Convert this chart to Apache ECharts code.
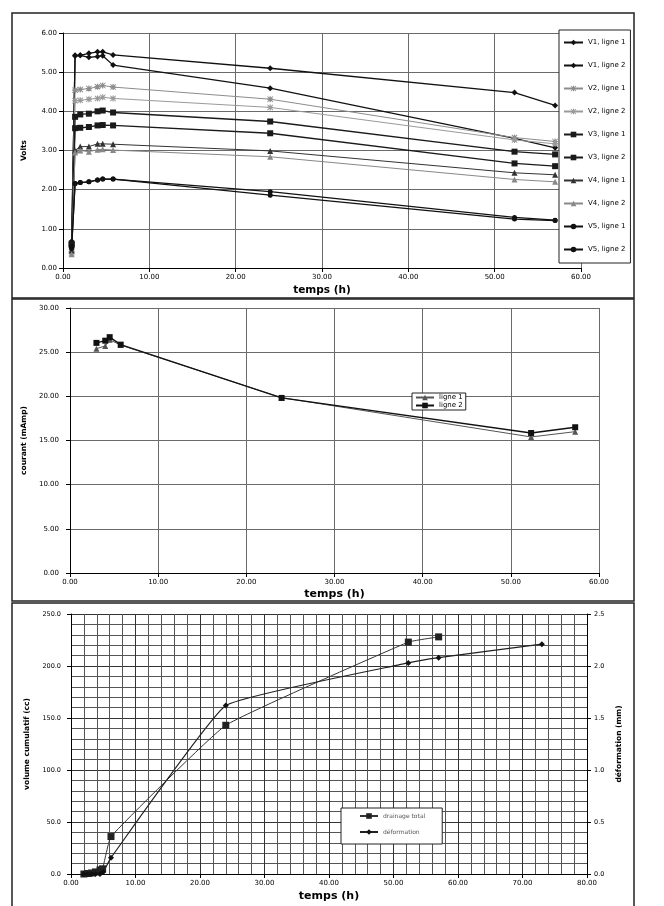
<!DOCTYPE html>
<html>
<head>
<meta charset="utf-8">
<script src="https://cdn.jsdelivr.net/npm/echarts@6.0.0/dist/echarts.min.js"></script>
<style>
  html, body { margin: 0; padding: 0; background: #fff; }
  #chart { width: 664px; height: 906px; }
</style>
</head>
<body>
<div id="chart"></div>
<script>
// panel 1 : tensions (Volts)
const tempsV = [1.0, 1.4, 2.0, 3.0, 4.0, 4.6, 5.8, 24, 52.3, 57]
const v1l1 = [0.68, 5.41, 5.43, 5.48, 5.52, 5.52, 5.44, 5.10, 4.48, 4.15]
const v1l2 = [0.65, 5.43, 5.43, 5.38, 5.40, 5.42, 5.18, 4.59, 3.31, 3.07]
const v2l1 = [0.42, 4.54, 4.56, 4.58, 4.63, 4.66, 4.62, 4.31, 3.33, 3.23]
const v2l2 = [0.38, 4.27, 4.28, 4.31, 4.33, 4.36, 4.33, 4.10, 3.27, 3.17]
const v3l1 = [0.62, 3.86, 3.92, 3.94, 4.00, 4.02, 3.97, 3.74, 2.97, 2.90]
const v3l2 = [0.58, 3.57, 3.58, 3.60, 3.64, 3.65, 3.64, 3.44, 2.67, 2.60]
const v4l1 = [0.45, 3.00, 3.10, 3.10, 3.17, 3.17, 3.16, 2.99, 2.43, 2.38]
const v4l2 = [0.35, 2.95, 3.00, 2.97, 3.02, 3.03, 3.01, 2.84, 2.26, 2.20]
const v5l1 = [0.55, 2.16, 2.18, 2.20, 2.25, 2.27, 2.27, 1.95, 1.29, 1.22]
const v5l2 = [0.50, 2.16, 2.18, 2.20, 2.25, 2.27, 2.27, 1.86, 1.25, 1.21]

// panel 2 : courant (mAmp)
const tempsI = [3.0, 4.0, 4.5, 5.75, 24, 52.3, 57.3]
const courantL1 = [25.4, 25.7, 26.4, 25.8, 19.85, 15.4, 16.0]
const courantL2 = [26.05, 26.3, 26.7, 25.85, 19.82, 15.85, 16.5]

// panel 3 : drainage et déformation
const tempsDrain = [2.0, 2.6, 3.2, 3.8, 4.5, 4.9, 6.2, 24, 52.3, 57]
const drainage = [0, 0.5, 1, 2, 4, 5, 36, 143, 223, 228]
const tempsDef = [2.0, 2.6, 3.2, 3.8, 4.5, 5.0, 6.2, 24, 52.3, 57, 73]
const deformation = [0, 0, 0, 0, 0, 0.02, 0.157, 1.62, 2.03, 2.08, 2.21]

const FONT = 'DejaVu Sans'
const asterisk = 'path://M4,0H6V4H10V6H6V10H4V6H0V4H4Z M1,0L5,3.6L9,0L10,1L6.4,5L10,9L9,10L5,6.4L1,10L0,9L3.6,5L0,1Z'

const pts = (xs, ys) => xs.map((x, i) => [x, ys[i]])

const lineSeries = (name, xs, ys, symbol, color, idx, extra = {}) => ({
  name,
  type: 'line',
  xAxisIndex: idx,
  yAxisIndex: idx,
  data: pts(xs, ys),
  symbol,
  symbolSize: 6,
  lineStyle: { color, width: 1.2 },
  itemStyle: { color },
  ...extra
})

const xAxisBase = (gridIndex, max, nameGap, nameSize) => ({
  type: 'value',
  gridIndex,
  min: 0,
  max,
  interval: 10,
  name: 'temps (h)',
  nameLocation: 'middle',
  nameGap,
  nameTextStyle: { fontFamily: FONT, fontWeight: 'bold', fontSize: nameSize, color: '#000' },
  axisLine: { onZero: false, lineStyle: { color: '#000' } },
  axisTick: { length: 4, lineStyle: { color: '#000' } },
  axisLabel: { fontFamily: FONT, fontSize: 7, color: '#000', margin: 6, formatter: v => v.toFixed(2) },
  splitLine: { show: true, lineStyle: { color: '#6a6a6a', width: 1 } }
})

const yAxisBase = (gridIndex, max, interval, name, nameGap, margin, digits) => ({
  type: 'value',
  gridIndex,
  min: 0,
  max,
  interval,
  name,
  nameLocation: 'middle',
  nameRotate: 90,
  nameGap,
  nameTextStyle: { fontFamily: FONT, fontWeight: 'bold', fontSize: 7.5, color: '#000' },
  axisLine: { show: true, lineStyle: { color: '#000' } },
  axisTick: { show: true, length: 4, lineStyle: { color: '#000' } },
  axisLabel: { fontFamily: FONT, fontSize: 7, color: '#000', margin, formatter: v => v.toFixed(digits) },
  splitLine: { show: true, lineStyle: { color: '#6a6a6a', width: 1 } }
})

const voltDefs = [
  ['V1, ligne 1', v1l1, 'diamond', '#111'],
  ['V1, ligne 2', v1l2, 'diamond', '#111'],
  ['V2, ligne 1', v2l1, asterisk, '#8c8c8c'],
  ['V2, ligne 2', v2l2, asterisk, '#9a9a9a'],
  ['V3, ligne 1', v3l1, 'rect', '#1a1a1a'],
  ['V3, ligne 2', v3l2, 'rect', '#1a1a1a'],
  ['V4, ligne 1', v4l1, 'triangle', '#333'],
  ['V4, ligne 2', v4l2, 'triangle', '#888'],
  ['V5, ligne 1', v5l1, 'circle', '#111'],
  ['V5, ligne 2', v5l2, 'circle', '#111']
]

const series = voltDefs.map(([name, ys, sym, color]) =>
  lineSeries(name, tempsV, ys, sym, color, 0, {
    symbolSize: sym === 'circle' ? 5 : 6,
    lineStyle: { color, width: color === '#111' || color === '#1a1a1a' ? 1.3 : 1 }
  })
)

series.push(lineSeries('ligne 1', tempsI, courantL1, 'triangle', '#555', 1, { lineStyle: { color: '#555', width: 1 } }))
series.push(lineSeries('ligne 2', tempsI, courantL2, 'rect', '#111', 1, { lineStyle: { color: '#111', width: 1.3 } }))

series.push(lineSeries('drainage total', tempsDrain, drainage, 'rect', '#222', 2, {
  smooth: 0.1, symbolSize: 7, lineStyle: { color: '#333', width: 1 }
}))
series.push({
  ...lineSeries('déformation', tempsDef, deformation, 'diamond', '#111', 2, {
    smooth: 0.1, lineStyle: { color: '#222', width: 1.2 }
  }),
  yAxisIndex: 3
})

const legendText = size => ({ fontFamily: FONT, fontSize: size, color: '#000' })

const option = {
  animation: false,
  backgroundColor: '#fff',
  graphic: [
    { type: 'rect', shape: { x: 12, y: 13, width: 622, height: 285 }, style: { fill: null, stroke: '#222', lineWidth: 1.5 }, z: 100 },
    { type: 'rect', shape: { x: 12, y: 299, width: 622, height: 302 }, style: { fill: null, stroke: '#222', lineWidth: 1.5 }, z: 100 },
    { type: 'rect', shape: { x: 12, y: 603, width: 622, height: 306 }, style: { fill: null, stroke: '#222', lineWidth: 1.5 }, z: 100 }
  ],
  grid: [
    { left: 63, top: 33, width: 518, height: 235 },
    { left: 70, top: 308, width: 529, height: 265 },
    { left: 71, top: 614, width: 516, height: 260 }
  ],
  xAxis: [
    xAxisBase(0, 60, 17, 10.5),
    xAxisBase(1, 60, 16, 11),
    {
      ...xAxisBase(2, 80, 17, 11),
      minorTick: { show: false, splitNumber: 5 },
      minorSplitLine: { show: true, lineStyle: { color: '#555', width: 1 } },
      splitLine: { show: true, lineStyle: { color: '#333', width: 1 } }
    }
  ],
  yAxis: [
    yAxisBase(0, 6, 1, 'Volts', 35, 6, 2),
    yAxisBase(1, 30, 5, 'courant (mAmp)', 41, 11, 2),
    {
      ...yAxisBase(2, 250, 50, 'volume cumulatif (cc)', 39, 10, 1),
      axisLabel: { fontFamily: FONT, fontSize: 6.5, color: '#000', margin: 10, formatter: v => v.toFixed(1) },
      minorTick: { show: false, splitNumber: 5 },
      minorSplitLine: { show: true, lineStyle: { color: '#555', width: 1 } },
      splitLine: { show: true, lineStyle: { color: '#333', width: 1 } }
    },
    {
      ...yAxisBase(2, 2.5, 0.5, 'déformation (mm)', 26, 7, 1),
      position: 'right',
      axisLabel: { fontFamily: FONT, fontSize: 6.5, color: '#000', margin: 7, formatter: v => v.toFixed(1) },
      splitLine: { show: false }
    }
  ],
  legend: [
    {
      data: voltDefs.map(d => d[0]),
      orient: 'vertical',
      left: 559,
      top: 30,
      itemWidth: 19,
      itemHeight: 7,
      itemGap: 16,
      padding: [9, 5, 10, 4],
      backgroundColor: '#fff',
      borderColor: '#222',
      borderWidth: 1,
      textStyle: legendText(7)
    },
    {
      data: ['ligne 1', 'ligne 2'],
      orient: 'vertical',
      left: 412,
      top: 393,
      itemWidth: 18,
      itemHeight: 7,
      itemGap: 1,
      padding: [1, 3, 1, 3],
      backgroundColor: '#fff',
      borderColor: '#222',
      borderWidth: 1,
      textStyle: legendText(7)
    },
    {
      data: ['drainage total', 'déformation'],
      orient: 'vertical',
      left: 341,
      top: 808,
      itemWidth: 18,
      itemHeight: 7,
      itemGap: 10,
      padding: [5, 17, 9, 18],
      backgroundColor: '#fff',
      borderColor: '#222',
      borderWidth: 1,
      textStyle: { fontFamily: FONT, fontSize: 6, color: '#555' }
    }
  ],
  series
}

const chart = echarts.init(document.getElementById('chart'))
chart.setOption(option)
</script>
</body>
</html>
